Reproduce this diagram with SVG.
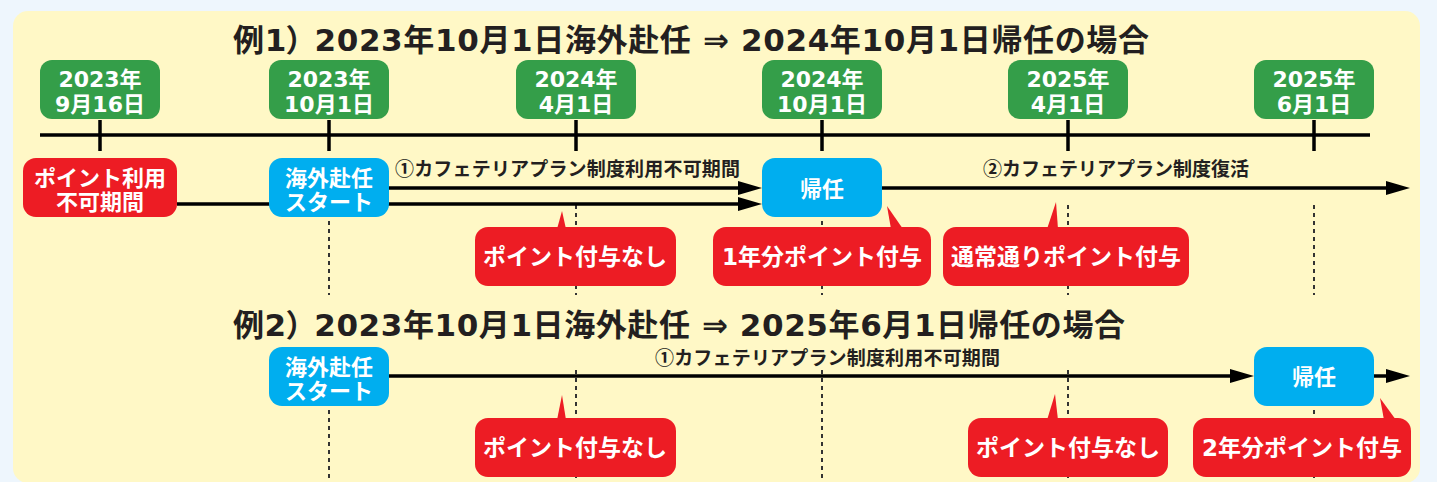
<svg xmlns="http://www.w3.org/2000/svg" width="1437" height="482" viewBox="0 0 1437 482">
<defs>
<style>
.ttl{font-family:"DejaVu Sans","Noto Sans CJK JP",sans-serif;font-weight:bold;font-size:31px;fill:#231f20}
.palt{font-family:"Noto Sans CJK JP",sans-serif;font-feature-settings:"palt" 1}
.lbl{font-family:"Noto Sans CJK JP",sans-serif;font-weight:bold;font-size:19px;fill:#231f20}
.wt{font-family:"DejaVu Sans","Noto Sans CJK JP",sans-serif;font-weight:bold;font-size:22px;fill:#fff;text-anchor:middle}
.co{font-family:"DejaVu Sans","Noto Sans CJK JP",sans-serif;font-weight:bold;font-size:23px;fill:#fff;text-anchor:middle}
.green{fill:#349e49}
.red{fill:#ed1c24}
.blue{fill:#00aeef}
.ln{stroke:#000;stroke-width:3.5;fill:none}
.dash{stroke:#333;stroke-width:2;stroke-dasharray:4 4;fill:none}
</style>
<marker id="arr" markerUnits="userSpaceOnUse" markerWidth="24" markerHeight="14" refX="12" refY="7" orient="auto">
<path d="M0,0 L24,7 L0,14 z" fill="#000"/>
</marker>
</defs>
<rect x="0" y="0" width="1437" height="482" fill="#eef6fd"/>
<rect x="13" y="11" width="1407" height="472" rx="15" fill="#fff8c6"/>

<g id="guides">
<path class="dash" d="M329,205V295M576,205V295M822,205V295M1068,205V295M1314,205V295M329,370V482M576,370V482M822,370V482M1068,370V482M1314,370V482"/>
</g>

<g id="title1"><text class="ttl" x="233" y="51" textLength="916" lengthAdjust="spacing">例1<tspan class="palt">）</tspan> 2023年10月1日海外赴任 ⇒ 2024年10月1日帰任の場合</text></g>
<g id="title2"><text class="ttl" x="233" y="336" textLength="892" lengthAdjust="spacing">例2<tspan class="palt">）</tspan> 2023年10月1日海外赴任 ⇒ 2025年6月1日帰任の場合</text></g>

<g id="timeline">
<path class="ln" stroke-width="4" d="M40,135H1370"/>
<path class="ln" d="M100,120V151M329,120V151M576,120V151M822,120V151M1068,120V151M1314,120V151"/>
</g>

<g id="connectors">
<path class="ln" d="M177,204H750" marker-end="url(#arr)"/>
<path class="ln" d="M389,188H750" marker-end="url(#arr)"/>
<path class="ln" d="M882,188H1398" marker-end="url(#arr)"/>
<path class="ln" d="M389,376H1242" marker-end="url(#arr)"/>
<path class="ln" d="M1374,376H1398" marker-end="url(#arr)"/>
<text class="lbl" x="395" y="176" textLength="345" lengthAdjust="spacing">①カフェテリアプラン制度利用不可期間</text>
<text class="lbl" x="983" y="176" textLength="266" lengthAdjust="spacing">②カフェテリアプラン制度復活</text>
<text class="lbl" x="655" y="365" textLength="345" lengthAdjust="spacing">①カフェテリアプラン制度利用不可期間</text>
</g>

<g id="d1"><rect class="green" x="40" y="60" width="120" height="59" rx="12"/><text class="wt" x="100" y="87">2023年</text><text class="wt" x="100" y="112">9月16日</text></g>
<g id="d2"><rect class="green" x="269" y="60" width="120" height="59" rx="12"/><text class="wt" x="329" y="87">2023年</text><text class="wt" x="329" y="112">10月1日</text></g>
<g id="d3"><rect class="green" x="516" y="60" width="120" height="59" rx="12"/><text class="wt" x="576" y="87">2024年</text><text class="wt" x="576" y="112">4月1日</text></g>
<g id="d4"><rect class="green" x="762" y="60" width="120" height="59" rx="12"/><text class="wt" x="822" y="87">2024年</text><text class="wt" x="822" y="112">10月1日</text></g>
<g id="d5"><rect class="green" x="1008" y="60" width="120" height="59" rx="12"/><text class="wt" x="1068" y="87">2025年</text><text class="wt" x="1068" y="112">4月1日</text></g>
<g id="d6"><rect class="green" x="1254" y="60" width="120" height="59" rx="12"/><text class="wt" x="1314" y="87">2025年</text><text class="wt" x="1314" y="112">6月1日</text></g>

<g id="r1-unusable"><rect class="red" x="23" y="158" width="154" height="59" rx="13"/><text class="wt" x="100" y="186">ポイント利用</text><text class="wt" x="100" y="210">不可期間</text></g>
<g id="r1-start"><rect class="blue" x="269" y="158" width="120" height="59" rx="13"/><text class="wt" x="329" y="186">海外赴任</text><text class="wt" x="329" y="210">スタート</text></g>
<g id="r1-return"><rect class="blue" x="762" y="158" width="120" height="59" rx="13"/><text class="wt" x="822" y="197">帰任</text></g>

<g id="r1-c1"><polygon class="red" points="557,229 562,211 566,229"/><rect class="red" x="475" y="227" width="201" height="59" rx="13"/><text class="co" x="575" y="265">ポイント付与なし</text></g>
<g id="r1-c2"><polygon class="red" points="891,229 887,206 903,229"/><rect class="red" x="713" y="227" width="218" height="59" rx="13"/><text class="co" x="822" y="265">1年分ポイント付与</text></g>
<g id="r1-c3"><polygon class="red" points="1047,229 1056,202 1058,229"/><rect class="red" x="943" y="227" width="246" height="59" rx="13"/><text class="co" x="1066" y="265">通常通りポイント付与</text></g>

<g id="r2-start"><rect class="blue" x="269" y="347" width="120" height="59" rx="13"/><text class="wt" x="329" y="375">海外赴任</text><text class="wt" x="329" y="399">スタート</text></g>
<g id="r2-return"><rect class="blue" x="1254" y="347" width="120" height="59" rx="13"/><text class="wt" x="1314" y="385">帰任</text></g>

<g id="r2-c1"><polygon class="red" points="557,420 562,395 566,420"/><rect class="red" x="475" y="418" width="201" height="59" rx="13"/><text class="co" x="575" y="456">ポイント付与なし</text></g>
<g id="r2-c2"><polygon class="red" points="1047,420 1055,394 1058,420"/><rect class="red" x="968" y="418" width="200" height="59" rx="13"/><text class="co" x="1068" y="456">ポイント付与なし</text></g>
<g id="r2-c3"><polygon class="red" points="1384,420 1380,398 1396,420"/><rect class="red" x="1193" y="418" width="218" height="59" rx="13"/><text class="co" x="1302" y="456">2年分ポイント付与</text></g>
</svg>
